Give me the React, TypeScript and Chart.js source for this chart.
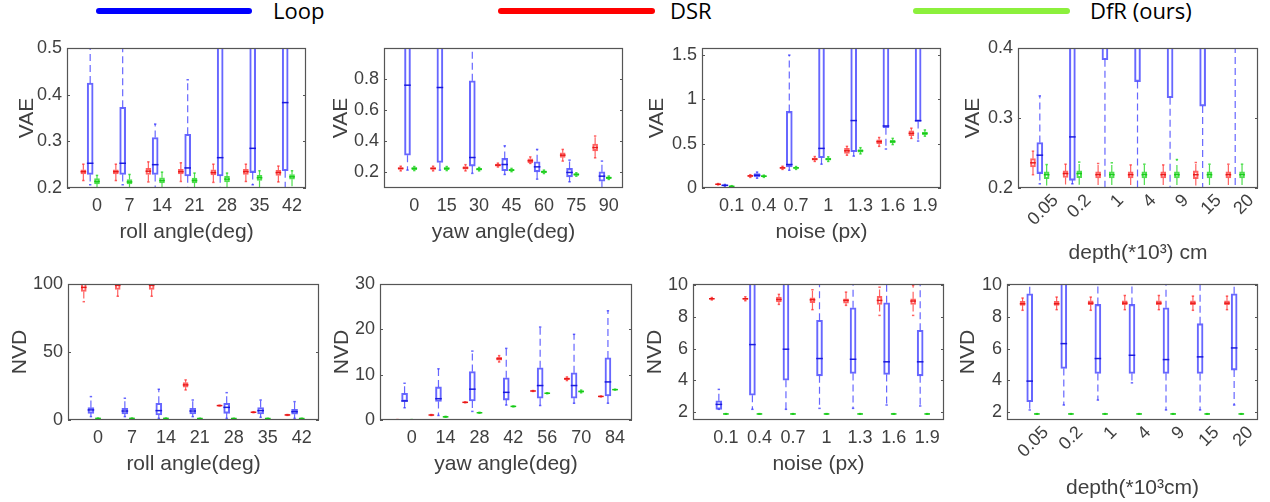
import React, { useEffect, useRef } from 'react';
import { Chart, registerables } from 'chart.js';

Chart.register(...registerables);

// ---------- categories (x tick labels) ----------
const ROLL_DEG = ['0', '7', '14', '21', '28', '35', '42'];
const YAW_DEG_VAE = ['0', '15', '30', '45', '60', '75', '90'];
const YAW_DEG_NVD = ['0', '14', '28', '42', '56', '70', '84'];
const NOISE_PX = ['0.1', '0.4', '0.7', '1', '1.3', '1.6', '1.9'];
const DEPTH = ['0.05', '0.2', '1', '4', '9', '15', '20'];

// ---------- y tick labels ----------
const TICKS_ROLL_VAE = [0.2, 0.3, 0.4, 0.5];
const TICKS_YAW_VAE = [0.2, 0.4, 0.6, 0.8];
const TICKS_NOISE_VAE = [0, 0.5, 1, 1.5];
const TICKS_DEPTH_VAE = [0.2, 0.3, 0.4];
const TICKS_ROLL_NVD = [0, 50, 100];
const TICKS_YAW_NVD = [0, 10, 20, 30];
const TICKS_NOISE_NVD = [2, 4, 6, 8, 10];
const TICKS_DEPTH_NVD = [2, 4, 6, 8, 10];

// ---------- box values: [min, q1, median, q3, max] ----------
// roll angle / VAE
const ROLL_VAE_DSR = [
  [0.216, 0.230, 0.235, 0.239, 0.251], [0.216, 0.230, 0.235, 0.239, 0.251],
  [0.213, 0.229, 0.236, 0.242, 0.256], [0.214, 0.230, 0.235, 0.240, 0.254],
  [0.212, 0.228, 0.233, 0.239, 0.251], [0.214, 0.229, 0.235, 0.240, 0.251],
  [0.213, 0.227, 0.233, 0.238, 0.247],
];
const ROLL_VAE_LOOP = [
  [0.207, 0.229, 0.253, 0.425, 0.62], [0.207, 0.229, 0.253, 0.373, 0.58],
  [0.19, 0.229, 0.250, 0.308, 0.337], [0.19, 0.226, 0.243, 0.315, 0.432],
  [0.19, 0.226, 0.265, 0.60, 0.80], [0.207, 0.233, 0.285, 0.60, 0.80],
  [0.19, 0.237, 0.383, 0.60, 0.80],
];
const ROLL_VAE_DFR = [
  [0.19, 0.209, 0.214, 0.220, 0.227], [0.19, 0.209, 0.213, 0.218, 0.229],
  [0.19, 0.211, 0.216, 0.222, 0.234], [0.19, 0.211, 0.216, 0.221, 0.232],
  [0.19, 0.213, 0.219, 0.225, 0.232], [0.19, 0.216, 0.222, 0.227, 0.237],
  [0.19, 0.219, 0.224, 0.229, 0.237],
];
// yaw angle / VAE
const YAW_VAE_DSR = [
  [0.21, 0.219, 0.226, 0.232, 0.24], [0.21, 0.219, 0.226, 0.232, 0.24],
  [0.21, 0.221, 0.229, 0.238, 0.25], [0.235, 0.24, 0.247, 0.253, 0.26],
  [0.258, 0.262, 0.275, 0.288, 0.30], [0.273, 0.296, 0.311, 0.326, 0.348],
  [0.294, 0.339, 0.36, 0.382, 0.434],
];
const YAW_VAE_LOOP = [
  [0.215, 0.311, 0.761, 1.2, 1.5], [0.215, 0.264, 0.746, 1.2, 1.5],
  [0.194, 0.241, 0.296, 0.789, 1.3], [0.187, 0.211, 0.251, 0.29, 0.371],
  [0.157, 0.204, 0.236, 0.269, 0.348], [0.14, 0.172, 0.2, 0.226, 0.279],
  [0.09, 0.144, 0.176, 0.204, 0.273],
];
const YAW_VAE_DFR = [
  [0.212, 0.218, 0.226, 0.232, 0.238], [0.212, 0.218, 0.226, 0.232, 0.238],
  [0.21, 0.215, 0.221, 0.226, 0.232], [0.205, 0.21, 0.215, 0.22, 0.226],
  [0.193, 0.198, 0.204, 0.21, 0.215], [0.176, 0.181, 0.187, 0.192, 0.198],
  [0.155, 0.16, 0.166, 0.172, 0.177],
];
// noise / VAE
const NOISE_VAE_DSR = [
  [0.035, 0.038, 0.042, 0.046, 0.05], [0.12, 0.13, 0.136, 0.142, 0.15],
  [0.21, 0.22, 0.227, 0.235, 0.245], [0.30, 0.315, 0.326, 0.337, 0.355],
  [0.37, 0.39, 0.42, 0.447, 0.47], [0.47, 0.50, 0.523, 0.545, 0.57],
  [0.56, 0.59, 0.617, 0.645, 0.675],
];
const NOISE_VAE_LOOP = [
  [0.02, 0.025, 0.03, 0.035, 0.04], [0.11, 0.125, 0.144, 0.163, 0.18],
  [0.2, 0.239, 0.265, 0.864, 1.5], [0.269, 0.341, 0.447, 2.0, 3.0],
  [0.36, 0.41, 0.761, 2.0, 3.0], [0.44, 0.68, 0.70, 2.0, 3.0],
  [0.53, 0.75, 0.76, 2.0, 3.0],
];
const NOISE_VAE_DFR = [
  [0.012, 0.015, 0.019, 0.023, 0.026], [0.12, 0.127, 0.133, 0.139, 0.145],
  [0.21, 0.22, 0.227, 0.234, 0.242], [0.30, 0.315, 0.326, 0.337, 0.352],
  [0.385, 0.405, 0.42, 0.435, 0.455], [0.49, 0.51, 0.523, 0.537, 0.56],
  [0.585, 0.603, 0.617, 0.632, 0.655],
];
// depth / VAE
const DEPTH_VAE_DSR = [
  [0.219, 0.230, 0.236, 0.242, 0.2526], [0.195, 0.215, 0.2206, 0.2244, 0.234],
  [0.195, 0.2144, 0.219, 0.223, 0.235], [0.195, 0.2144, 0.219, 0.223, 0.233],
  [0.195, 0.2144, 0.219, 0.223, 0.233], [0.195, 0.2135, 0.219, 0.2244, 0.2364],
  [0.195, 0.2144, 0.219, 0.223, 0.234],
];
const DEPTH_VAE_LOOP = [
  [0.206, 0.2206, 0.2469, 0.265, 0.3316], [0.206, 0.211, 0.273, 0.6, 1.0],
  [0.18, 0.3833, 0.5, 0.7, 1.0], [0.18, 0.352, 0.5, 0.7, 1.0],
  [0.18, 0.329, 0.5, 0.7, 1.0], [0.18, 0.317, 0.5, 0.7, 1.0],
  [0.18, 0.45, 0.55, 0.7, 1.0],
];
const DEPTH_VAE_DFR = [
  [0.195, 0.2134, 0.219, 0.223, 0.2335], [0.195, 0.2148, 0.2206, 0.2244, 0.237],
  [0.195, 0.2144, 0.219, 0.223, 0.236], [0.195, 0.2144, 0.219, 0.223, 0.234],
  [0.195, 0.2144, 0.219, 0.223, 0.2407], [0.195, 0.2144, 0.219, 0.223, 0.234],
  [0.195, 0.2144, 0.219, 0.223, 0.234],
];
// roll angle / NVD
const ROLL_NVD_DSR = [
  [87, 94.5, 97.5, 101, 103], [91, 96, 99, 100.5, 102], [91, 96, 99, 100.5, 102],
  [22.1, 24.1, 25.8, 27.5, 29.5], [10.3, 10.4, 10.6, 10.8, 10.9],
  [5.4, 5.5, 5.7, 5.9, 6.0], [3.4, 3.5, 3.7, 3.9, 4.0],
];
const ROLL_NVD_LOOP = [
  [2.5, 4.9, 7.4, 9.1, 17.2], [2.5, 4.4, 6.6, 8.6, 16], [1.2, 3.7, 6.9, 12.3, 22.6],
  [2.5, 4.4, 6.6, 8.6, 14.7], [1.2, 4.9, 9.3, 12.3, 20.1],
  [2.0, 4.4, 6.9, 9.1, 14.7], [1.2, 4.2, 6.1, 7.9, 13.5],
];
const ROLL_NVD_DFR = [
  [1.0, 1.1, 1.2, 1.3, 1.4], [1.0, 1.1, 1.2, 1.3, 1.4], [1.0, 1.1, 1.2, 1.3, 1.4],
  [0.9, 1.0, 1.1, 1.2, 1.3], [0.9, 1.0, 1.1, 1.2, 1.3],
  [0.9, 1.0, 1.1, 1.2, 1.3], [0.9, 1.0, 1.1, 1.2, 1.3],
];
// yaw angle / NVD
const YAW_NVD_DSR = [
  [-0.1, -0.05, 0, 0.05, 0.1], [1.0, 1.05, 1.1, 1.15, 1.2], [3.8, 3.85, 3.9, 3.95, 4.0],
  [12.8, 13.2, 13.5, 13.8, 14.2], [6.3, 6.35, 6.4, 6.45, 6.5],
  [8.7, 8.9, 9.1, 9.3, 9.5], [5.1, 5.15, 5.2, 5.25, 5.3],
];
const YAW_NVD_LOOP = [
  [2.7, 4.1, 4.2, 5.9, 8.1], [1.0, 4.1, 4.7, 7.3, 11.3], [1.9, 4.2, 6.8, 10.7, 15.2],
  [3.3, 4.4, 6.1, 9.3, 15.8], [3.2, 4.8, 7.6, 11.5, 20.5],
  [3.7, 4.8, 7.6, 10.4, 18.9], [3.7, 5.3, 8.4, 13.7, 24.1],
];
const YAW_NVD_DFR = [
  [-0.05, 0, 0.02, 0.05, 0.1], [0.6, 0.65, 0.7, 0.75, 0.8], [1.5, 1.55, 1.6, 1.65, 1.7],
  [2.9, 2.95, 3.0, 3.05, 3.1], [5.8, 5.85, 5.9, 5.95, 6.0],
  [6.0, 6.15, 6.3, 6.45, 6.6], [6.6, 6.65, 6.7, 6.75, 6.8],
];
// noise / NVD
const NOISE_NVD_DSR = [
  [9.05, 9.1, 9.125, 9.15, 9.2], [9.0, 9.08, 9.125, 9.17, 9.25],
  [8.77, 8.92, 9.08, 9.23, 9.4], [8.44, 8.875, 9.06, 9.19, 9.69],
  [8.71, 8.85, 9.02, 9.125, 9.54], [8.08, 8.77, 9.02, 9.27, 9.85],
  [8.08, 8.77, 8.98, 9.125, 9.96],
];
const NOISE_NVD_LOOP = [
  [2.19, 2.19, 2.5, 2.73, 3.44], [2.19, 3.08, 6.25, 11, 13], [2.19, 4.02, 5.96, 11, 13],
  [2.25, 4.29, 5.375, 7.77, 11], [2.25, 4.44, 5.33, 8.56, 11],
  [2.46, 4.375, 5.17, 8.875, 11], [2.4, 4.29, 5.17, 7.15, 11],
];
const NOISE_NVD_DFR = [
  [1.88, 1.89, 1.9, 1.91, 1.92], [1.88, 1.89, 1.9, 1.91, 1.92], [1.88, 1.89, 1.9, 1.91, 1.92],
  [1.88, 1.89, 1.9, 1.91, 1.92], [1.88, 1.89, 1.9, 1.91, 1.92],
  [1.88, 1.89, 1.9, 1.91, 1.92], [1.88, 1.89, 1.9, 1.91, 1.92],
];
// depth / NVD
const DEPTH_NVD_DSR = [
  [8.4, 8.71, 8.81, 8.96, 9.17], [8.44, 8.71, 8.81, 8.96, 9.23], [8.4, 8.75, 8.85, 9.0, 9.23],
  [8.44, 8.75, 8.85, 9.0, 9.33], [8.44, 8.75, 8.85, 9.0, 9.33],
  [8.4, 8.75, 8.85, 9.0, 9.29], [8.44, 8.75, 8.85, 9.0, 9.29],
];
const DEPTH_NVD_LOOP = [
  [2.15, 2.67, 3.96, 9.44, 11], [2.46, 4.75, 6.31, 11, 13], [2.77, 4.44, 5.375, 8.77, 11],
  [3.85, 4.44, 5.58, 8.77, 11], [2.15, 4.44, 5.31, 8.56, 11],
  [2.15, 4.44, 5.48, 7.56, 11], [2.46, 4.65, 6.04, 9.44, 11],
];
const DEPTH_NVD_DFR = [
  [1.88, 1.89, 1.9, 1.91, 1.92], [1.88, 1.89, 1.9, 1.91, 1.92], [1.88, 1.89, 1.9, 1.91, 1.92],
  [1.88, 1.89, 1.9, 1.91, 1.92], [1.88, 1.89, 1.9, 1.91, 1.92],
  [1.88, 1.89, 1.9, 1.91, 1.92], [1.88, 1.89, 1.9, 1.91, 1.92],
];

// ---------- styles ----------
const LOOP_LINE = 'rgba(45,45,255,0.72)';
const LOOP_MED = 'rgba(20,20,220,0.95)';
const DSR_LINE = 'rgba(255,45,45,0.75)';
const DSR_MED = 'rgba(230,20,20,0.95)';
const DFR_LINE = 'rgba(35,215,35,0.8)';
const DFR_MED = 'rgba(20,200,20,0.95)';
const TEXT = '#404040';
const FRAME = '#555555';
const FONT = "'Liberation Sans', Arial, sans-serif";

const Y_AXIS_W = 66;
const PAD_TOP = 12;
const PAD_RIGHT = 10;

type PanelCfg = {
  cats: string[];
  dsr: number[][];
  loop: number[][];
  dfr: number[][];
  yMin: number;
  yMax: number;
  yTicks: number[];
  yTitle: string;
  xTitle: string;
  plot: [number, number, number, number]; // left, top, right, bottom (page px)
  xRange: [number, number];
  yTitleGap: number;
  xTitleY: number;
  rotated: boolean;
};

const PANELS: PanelCfg[] = [
  { cats: ROLL_DEG, dsr: ROLL_VAE_DSR, loop: ROLL_VAE_LOOP, dfr: ROLL_VAE_DFR, yMin: 0.2, yMax: 0.5, yTicks: TICKS_ROLL_VAE, yTitle: 'VAE', xTitle: 'roll angle(deg)', plot: [67, 48, 306, 188], xRange: [-0.923, 6.43], yTitleGap: 40, xTitleY: 232, rotated: false },
  { cats: YAW_DEG_VAE, dsr: YAW_VAE_DSR, loop: YAW_VAE_LOOP, dfr: YAW_VAE_DFR, yMin: 0.1, yMax: 1.0, yTicks: TICKS_YAW_VAE, yTitle: 'VAE', xTitle: 'yaw angle(deg)', plot: [384, 48, 623, 188], xRange: [-0.935, 6.44], yTitleGap: 43, xTitleY: 232, rotated: false },
  { cats: NOISE_PX, dsr: NOISE_VAE_DSR, loop: NOISE_VAE_LOOP, dfr: NOISE_VAE_DFR, yMin: 0, yMax: 1.58, yTicks: TICKS_NOISE_VAE, yTitle: 'VAE', xTitle: 'noise (px)', plot: [702, 48, 941, 188], xRange: [-0.92, 6.5], yTitleGap: 45, xTitleY: 232, rotated: false },
  { cats: DEPTH, dsr: DEPTH_VAE_DSR, loop: DEPTH_VAE_LOOP, dfr: DEPTH_VAE_DFR, yMin: 0.2, yMax: 0.4, yTicks: TICKS_DEPTH_VAE, yTitle: 'VAE', xTitle: 'depth(*10³) cm', plot: [1018, 48, 1258, 188], xRange: [-0.88, 6.49], yTitleGap: 45, xTitleY: 253, rotated: true },
  { cats: ROLL_DEG, dsr: ROLL_NVD_DSR, loop: ROLL_NVD_LOOP, dfr: ROLL_NVD_DFR, yMin: 0, yMax: 100, yTicks: TICKS_ROLL_NVD, yTitle: 'NVD', xTitle: 'roll angle(deg)', plot: [68, 284, 319, 420], xRange: [-0.885, 6.51], yTitleGap: 48, xTitleY: 464, rotated: false },
  { cats: YAW_DEG_NVD, dsr: YAW_NVD_DSR, loop: YAW_NVD_LOOP, dfr: YAW_NVD_DFR, yMin: 0, yMax: 30, yTicks: TICKS_YAW_NVD, yTitle: 'NVD', xTitle: 'yaw angle(deg)', plot: [380, 284, 632, 420], xRange: [-0.935, 6.5], yTitleGap: 38, xTitleY: 464, rotated: false },
  { cats: NOISE_PX, dsr: NOISE_NVD_DSR, loop: NOISE_NVD_LOOP, dfr: NOISE_NVD_DFR, yMin: 1.52, yMax: 10.05, yTicks: TICKS_NOISE_NVD, yTitle: 'NVD', xTitle: 'noise (px)', plot: [693, 284, 944, 420], xRange: [-0.98, 6.5], yTitleGap: 38, xTitleY: 464, rotated: false },
  { cats: DEPTH, dsr: DEPTH_NVD_DSR, loop: DEPTH_NVD_LOOP, dfr: DEPTH_NVD_DFR, yMin: 1.52, yMax: 10.05, yTicks: TICKS_DEPTH_NVD, yTitle: 'NVD', xTitle: 'depth(*10³cm)', plot: [1007, 284, 1258, 420], xRange: [-0.877, 6.49], yTitleGap: 39, xTitleY: 488, rotated: true },
];

const DSR_OFFSET = -0.42;
const LOOP_OFFSET = -0.21;
const DFR_OFFSET = 0;

function seriesSets(vals: number[][], off: number, line: string, dark: string, w: number): any[] {
  const xs = (i: number) => i + off;
  const whisk: any[] = [];
  vals.forEach((v, i) => {
    whisk.push(
      { x: xs(i), y: v[3] }, { x: xs(i), y: v[4] }, { x: xs(i), y: null },
      { x: xs(i), y: v[1] }, { x: xs(i), y: v[0] }, { x: xs(i), y: null },
    );
  });
  return [
    {
      type: 'line', data: whisk, borderColor: line, borderWidth: 1.2, borderDash: [7, 4],
      pointRadius: 0, showLine: true, spanGaps: false, fill: false, clip: 0, order: 3,
    },
    {
      type: 'bar', data: vals.map((v, i) => ({ x: xs(i), y: [v[1], v[3]] })),
      barThickness: w, grouped: false, borderColor: line, borderWidth: 1.4,
      borderSkipped: false, backgroundColor: 'rgba(255,255,255,0)', clip: 0, order: 2,
    },
    {
      type: 'line', data: vals.map((v, i) => ({ x: xs(i), y: v[2] })), showLine: false,
      pointStyle: 'line', pointRadius: w / 2 + 0.3, pointBorderColor: dark, pointBorderWidth: 1.5,
      clip: 0, order: 1,
    },
    {
      type: 'line', data: vals.flatMap((v, i) => [{ x: xs(i), y: v[0] }, { x: xs(i), y: v[4] }]),
      showLine: false, pointStyle: 'line', pointRadius: 1.2, pointBorderColor: line,
      pointBorderWidth: 1.5, clip: 0, order: 1,
    },
  ];
}

const framePlugin = {
  id: 'matlabFrame',
  afterDatasetsDraw(chart: any) {
    const { ctx, chartArea: a, scales } = chart;
    ctx.save();
    ctx.strokeStyle = FRAME;
    ctx.lineWidth = 1.2;
    ctx.setLineDash([]);
    ctx.strokeRect(a.left + 0.5, a.top + 0.5, a.right - a.left - 1, a.bottom - a.top - 1);
    ctx.beginPath();
    scales.y.ticks.forEach((t: any) => {
      const y = Math.round(scales.y.getPixelForValue(t.value)) + 0.5;
      ctx.moveTo(a.left, y); ctx.lineTo(a.left + 3, y);
      ctx.moveTo(a.right, y); ctx.lineTo(a.right - 3, y);
    });
    ctx.stroke();
    ctx.restore();
  },
};

function Panel({ cfg }: { cfg: PanelCfg }) {
  const ref = useRef<HTMLCanvasElement>(null);
  const [l, t, r, b] = cfg.plot;
  const xH = cfg.xTitleY - b + 13;
  const w = Y_AXIS_W + (r - l) + PAD_RIGHT;
  const h = PAD_TOP + (b - t) + xH;

  useEffect(() => {
    if (!ref.current) return;
    const datasets = [
      ...seriesSets(cfg.loop, LOOP_OFFSET, LOOP_LINE, LOOP_MED, 6),
      ...seriesSets(cfg.dsr, DSR_OFFSET, DSR_LINE, DSR_MED, 5),
      ...seriesSets(cfg.dfr, DFR_OFFSET, DFR_LINE, DFR_MED, 5),
    ];
    const chart = new Chart(ref.current, {
      type: 'bar',
      data: { datasets },
      options: {
        animation: false,
        responsive: false,
        devicePixelRatio: 1,
        events: [],
        layout: { padding: { top: PAD_TOP, right: PAD_RIGHT, left: 0, bottom: 0 } },
        plugins: { legend: { display: false }, tooltip: { enabled: false } },
        scales: {
          x: {
            type: 'linear',
            min: cfg.xRange[0],
            max: cfg.xRange[1],
            offset: false,
            grid: { display: false, drawTicks: false },
            border: { display: false },
            afterBuildTicks: (s: any) => { s.ticks = cfg.cats.map((_, i) => ({ value: i })); },
            afterFit: (s: any) => { s.height = xH; s.paddingLeft = 0; s.paddingRight = 0; },
            ticks: {
              autoSkip: false,
              color: TEXT,
              font: { family: FONT, size: 18 },
              padding: cfg.rotated ? 2 : 7,
              labelOffset: cfg.rotated ? 9 : 0,
              minRotation: cfg.rotated ? 45 : 0,
              maxRotation: cfg.rotated ? 45 : 0,
              callback: (v: any) => cfg.cats[Math.round(Number(v))] ?? '',
            },
            title: {
              display: true, text: cfg.xTitle, color: TEXT,
              font: { family: FONT, size: 21 }, padding: { top: 0, bottom: 0 },
            },
          },
          y: {
            type: 'linear',
            min: cfg.yMin,
            max: cfg.yMax,
            grid: { display: false, drawTicks: false },
            border: { display: false },
            afterBuildTicks: (s: any) => { s.ticks = cfg.yTicks.map((v) => ({ value: v })); },
            afterFit: (s: any) => { s.width = Y_AXIS_W; s.paddingTop = 0; s.paddingBottom = 0; },
            ticks: {
              color: TEXT,
              font: { family: FONT, size: 18 },
              padding: 5,
              callback: (v: any) => String(v),
            },
            title: {
              display: true, text: cfg.yTitle, color: TEXT,
              font: { family: FONT, size: 21 },
              padding: { top: Y_AXIS_W - cfg.yTitleGap - 12.6, bottom: 0 },
            },
          },
        },
      } as any,
      plugins: [framePlugin],
    } as any);
    return () => chart.destroy();
  }, []);

  return (
    <canvas
      ref={ref}
      width={w}
      height={h}
      style={{ position: 'absolute', left: l - Y_AXIS_W, top: t - PAD_TOP, width: w, height: h }}
    />
  );
}

const LEGEND_ITEMS = [
  { label: 'Loop', color: '#0000ff', x1: 96, x2: 252, tx: 273 },
  { label: 'DSR', color: '#ff0000', x1: 498, x2: 655, tx: 670 },
  { label: 'DfR (ours)', color: '#8cf03c', x1: 913, x2: 1070, tx: 1090 },
];

export default function App() {
  return (
    <div style={{ position: 'absolute', left: 0, top: 0, width: 1270, height: 502, background: '#fff', overflow: 'hidden' }}>
      {LEGEND_ITEMS.map((it) => (
        <React.Fragment key={it.label}>
          <div style={{ position: 'absolute', left: it.x1, top: 8, width: it.x2 - it.x1, height: 6, borderRadius: 3, background: it.color }} />
          <div style={{ position: 'absolute', left: it.tx, top: -1, fontFamily: "'Open Sans', sans-serif", fontSize: 22, lineHeight: '22px', color: '#000', whiteSpace: 'nowrap' }}>
            {it.label}
          </div>
        </React.Fragment>
      ))}
      {PANELS.map((p, i) => <Panel key={i} cfg={p} />)}
    </div>
  );
}
